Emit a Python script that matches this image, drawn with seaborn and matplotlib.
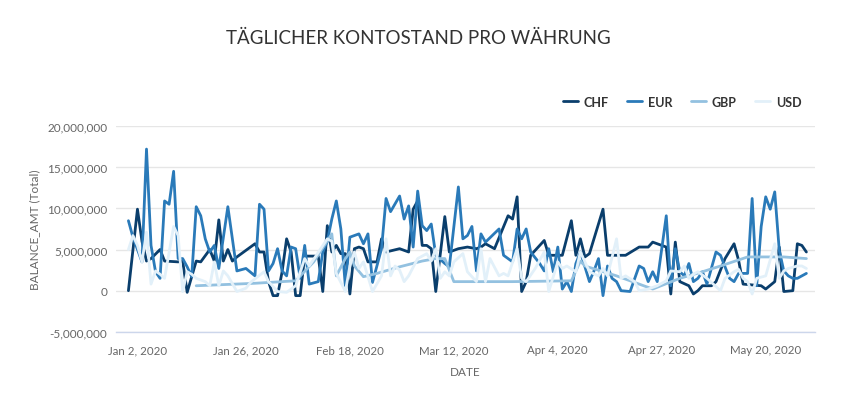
import pandas as pd
import matplotlib
matplotlib.use('Agg')
import matplotlib.pyplot as plt
import matplotlib.ticker as ticker
import matplotlib.dates as mdates
import seaborn as sns

# Style Setting
sns.set_style("white")
plt.rcParams['font.family'] = ['Lato', 'DejaVu Sans']

### Config ###
title = 'TÄGLICHER KONTOSTAND PRO WÄHRUNG'
label_y = 'BALANCE_AMT (Total)'
label_x = 'DATE'
start = pd.Timestamp('2019-12-31')
currencies = ['CHF', 'EUR', 'GBP', 'USD']
colors = {'CHF': '#0a3e6c', 'EUR': '#2a7ab9', 'GBP': '#93c1e0', 'USD': '#e2f0f9'}
tick_dates = ['2020-01-02', '2020-01-26', '2020-02-18', '2020-03-12',
              '2020-04-04', '2020-04-27', '2020-05-20']
y_ticks = [-5e6, 0, 5e6, 10e6, 15e6, 20e6]

# days after 2019-12-31, balance in millions
chf_days = [0, 2, 3, 4, 5, 7, 8, 11, 12, 13, 15, 16, 18, 19, 20, 21, 22, 23, 24, 28,
            29, 30, 31, 32, 33, 34, 35, 36, 37, 38, 39, 42, 43, 44, 45, 46, 47, 48, 49, 50,
            51, 52, 53, 55, 56, 57, 60, 62, 63, 64, 65, 66, 67, 68, 70, 71, 73, 75, 77, 78,
            79, 81, 84, 85, 86, 87, 88, 89, 92, 93, 96, 98, 99, 100, 101, 102, 105, 106, 110, 113,
            115, 116, 119, 120, 121, 122, 124, 125, 126, 127, 129, 130, 132, 134, 135, 136, 140, 141, 143, 144,
            145, 147, 148, 149, 150]
chf_vals = [0.0, 9.9, 6.0, 3.6, 3.9, 5.0, 3.6, 3.5, 3.6, -0.2, 3.6, 3.5, 5.0, 3.6, 8.6, 3.6, 5.0, 3.6, 4.1, 5.7,
            4.7, 4.7, 1.1, -0.6, -0.6, 2.3, 6.3, 4.7, -0.6, -0.6, 4.2, 4.2, -0.1, 7.9, 4.7, 5.5, 4.5, 4.5, -0.4, 5.1,
            5.3, 5.1, 3.5, 3.5, 6.3, 4.7, 5.1, 4.7, 9.9, 10.9, 5.5, 5.5, 5.1, -0.1, 9.0, 4.7, 5.1, 5.3, 5.1, 5.3,
            5.7, 5.1, 9.1, 8.7, 11.4, -0.1, 1.1, 4.3, 6.1, 4.3, 4.3, 8.5, 4.3, 6.3, 4.1, 4.5, 9.9, 4.3, 4.3, 5.3,
            5.3, 5.9, 5.3, -0.4, 5.9, 1.1, 0.6, -0.4, 0.0, 0.6, 0.6, 1.1, 3.9, 5.7, 3.7, 0.8, 0.6, 0.2, 1.1, 5.3,
            -0.1, 0.0, 5.7, 5.5, 4.7]

eur_days = [0, 1, 3, 4, 5, 6, 7, 8, 9, 10, 11, 12, 13, 14, 15, 16, 17, 18, 19, 20,
            22, 23, 24, 26, 28, 29, 30, 31, 32, 33, 34, 35, 36, 37, 38, 39, 40, 42, 43, 44,
            45, 46, 47, 48, 49, 51, 52, 53, 54, 56, 57, 58, 60, 61, 62, 63, 64, 65, 66, 67,
            68, 70, 71, 73, 74, 75, 76, 77, 78, 79, 82, 83, 85, 86, 87, 88, 89, 91, 92, 93,
            94, 95, 96, 97, 98, 99, 100, 101, 102, 103, 104, 105, 106, 107, 108, 109, 111, 113, 114, 115,
            116, 117, 119, 120, 121, 122, 123, 124, 125, 126, 127, 128, 130, 131, 133, 134, 135, 137, 138, 139,
            140, 141, 142, 143, 144, 145, 146, 147, 148, 150]
eur_vals = [8.5, 6.5, 3.5, 17.2, 5.5, 2.3, 1.5, 10.9, 10.5, 14.5, 3.9, 3.9, 2.9, 1.7, 10.2, 9.1, 6.3, 4.7, 5.5, 2.7,
            10.2, 6.3, 2.4, 2.7, 1.8, 10.5, 9.9, 2.4, 3.3, 5.1, 2.4, 1.8, 5.3, 5.1, 1.5, 5.5, 0.8, 1.1, 4.7, 6.0,
            8.7, 10.9, 7.5, 0.5, 6.5, 6.9, 5.7, 6.9, 1.0, 5.1, 11.2, 9.6, 11.5, 8.7, 10.3, 5.3, 12.1, 7.9, 7.3, 8.1,
            4.3, 3.3, 2.9, 12.6, 6.3, 6.7, 7.8, 2.4, 6.9, 5.9, 7.5, 4.3, 3.5, 7.5, 6.3, 7.5, 4.7, 3.3, 2.4, 5.1,
            2.3, 5.3, 0.2, 1.1, -0.1, 3.3, 4.7, 2.9, 1.1, 2.4, 3.9, -0.6, 3.0, 1.5, 1.1, 0.0, -0.1, 3.0, 2.7, 1.1,
            2.3, 1.1, 9.1, 0.6, 5.1, 2.3, 1.8, 3.3, 1.1, 1.5, 2.3, 0.8, 4.7, 4.3, 1.5, 1.1, 2.1, 2.1, 11.2, 0.6,
            7.8, 11.4, 9.9, 12.0, 4.9, 2.4, 1.8, 1.5, 1.5, 2.1]

gbp_days = [15, 28, 37, 41, 45, 46, 48, 49, 50, 52, 55, 60, 65, 68, 70, 72, 85, 98, 100, 101,
            108, 116, 122, 127, 131, 137, 145, 150]
gbp_vals = [0.6, 0.9, 1.2, 3.5, 6.9, 1.8, 3.9, 4.7, 3.0, 1.7, 2.1, 2.9, 3.6, 3.9, 3.9, 1.1, 1.1, 1.2, 3.6, 3.0,
            1.8, 0.2, 1.5, 2.3, 3.0, 4.1, 4.1, 3.9]

usd_days = [0, 1, 2, 3, 4, 5, 6, 7, 8, 10, 11, 12, 13, 14, 15, 17, 18, 19, 20, 21,
            22, 24, 26, 27, 30, 31, 33, 35, 37, 39, 40, 44, 45, 46, 48, 49, 50, 51, 52, 54,
            56, 57, 58, 59, 60, 61, 62, 64, 66, 67, 68, 69, 70, 71, 72, 74, 75, 77, 78, 79,
            80, 82, 83, 84, 86, 87, 88, 90, 92, 93, 95, 96, 97, 99, 100, 101, 102, 104, 105, 106,
            108, 109, 110, 112, 113, 115, 117, 119, 120, 122, 123, 124, 125, 126, 128, 131, 132, 134, 135, 136,
            137, 138, 139, 141, 143, 144, 145, 146, 148, 149, 150]
usd_vals = [5.0, 6.7, 5.5, 3.5, 7.1, 0.8, 2.4, 2.0, 1.5, 7.8, 6.7, -0.1, 2.3, 2.0, 1.5, 1.1, 0.6, 3.5, 0.6, 2.4,
            1.8, -0.1, 0.3, 1.0, 2.3, 1.1, -0.1, -0.2, 0.6, 3.9, 3.0, 6.3, 6.0, 2.1, -0.1, 3.0, 4.7, 2.7, 3.5, -0.1,
            1.8, 6.3, 1.8, 3.0, 2.5, 1.1, 1.8, 3.9, 4.5, 3.6, 5.1, 1.5, 2.3, 1.8, 3.5, 4.5, 2.3, 1.1, 5.1, 1.1,
            3.9, 1.8, 2.1, 1.8, 5.1, 1.5, 1.1, 2.7, 4.7, -0.1, 3.5, 2.7, 3.0, 2.3, 4.7, 3.5, 2.3, 1.8, 2.7, 1.8,
            6.3, 1.5, 1.8, 1.1, 0.0, 0.2, 0.6, 1.2, 2.4, 2.3, 3.0, 1.5, 2.0, 2.3, 1.5, 0.0, 1.5, 2.3, 2.6, 1.5,
            1.1, -0.4, 1.5, 1.8, 5.7, 1.5, 2.4, 2.7, 3.0, 3.0, 2.7]

series = {'CHF': (chf_days, chf_vals), 'EUR': (eur_days, eur_vals),
          'GBP': (gbp_days, gbp_vals), 'USD': (usd_days, usd_vals)}

# build long table
frames = []
for cur, (days, vals) in series.items():
    frames.append(pd.DataFrame({
        'DATE': start + pd.to_timedelta(days, unit='D'),
        'BALANCE_AMT': [v * 1e6 for v in vals],
        'CURRENCY': cur,
    }))
df = pd.concat(frames, ignore_index=True)

# initiate figure
fig = plt.figure(figsize=(8.45, 4.02), dpi=100)
ax = fig.add_axes([0.137, 0.172, 0.828, 0.512])

ax.yaxis.grid(True, color='#e6e6e6', linewidth=1)
ax.set_axisbelow(True)

sns.lineplot(data=df, x='DATE', y='BALANCE_AMT', hue='CURRENCY', hue_order=currencies,
             palette=colors, linewidth=2, ax=ax, legend=True, estimator=None)

# modify x axis
ax.set_xlim(start - pd.Timedelta(days=2.8), start + pd.Timedelta(days=152))
ax.xaxis.set_major_locator(ticker.FixedLocator(mdates.date2num(pd.to_datetime(tick_dates))))
ax.xaxis.set_major_formatter(mdates.DateFormatter('%b %-d, %Y'))
ax.set_xlabel(label_x, color='#666666', fontsize=8.5, labelpad=8)
ax.tick_params(axis='x', colors='#ccd6eb', length=7, width=1, labelcolor='#666666',
               labelsize=8.3, pad=2)

# modify y axis
ax.set_ylim(-5e6, 20e6)
ax.yaxis.set_major_locator(ticker.FixedLocator(y_ticks))
ax.yaxis.set_major_formatter(ticker.FuncFormatter(lambda v, p: f'{v:,.0f}'))
ax.set_ylabel(label_y, color='#666666', fontsize=8.5, labelpad=5)
ax.tick_params(axis='y', length=0, labelcolor='#666666', labelsize=8.5, pad=6)

for side in ['top', 'right', 'left']:
    ax.spines[side].set_visible(False)
ax.spines['bottom'].set_color('#ccd6eb')
ax.spines['bottom'].set_linewidth(1)

# legend
handles, labels = ax.get_legend_handles_labels()
ax.get_legend().remove()
leg = fig.legend(handles, labels, loc='center right', bbox_to_anchor=(0.962, 0.745), ncol=4,
                 frameon=False, handlelength=1.2, handletextpad=0.45, columnspacing=1.5,
                 prop={'weight': 'bold', 'size': 9})
for text in leg.get_texts():
    text.set_color('#333333')

fig.text(0.495, 0.905, title, ha='center', va='center', fontsize=13.5, color='#333333')

fig.savefig('out.png', dpi=100)
